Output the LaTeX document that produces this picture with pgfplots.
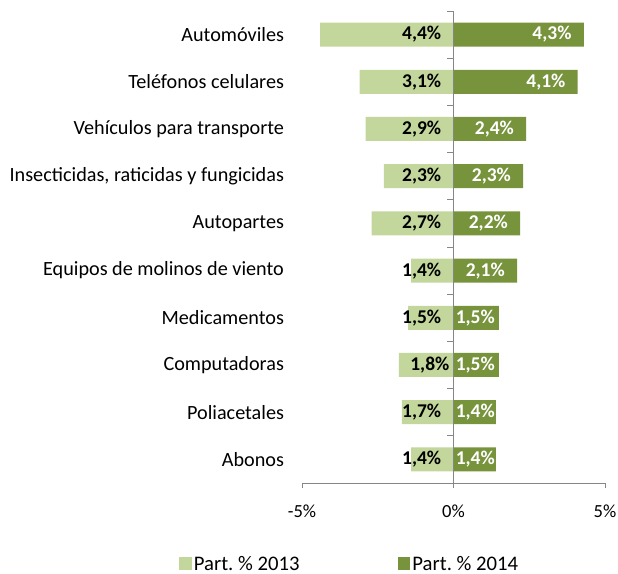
\documentclass[border=0pt]{standalone}
\usepackage{fontspec}
\setmainfont{Carlito}
\usepackage{pgfplots}
\pgfplotsset{compat=1.18}
\usepackage{pgfplotstable}
\frenchspacing
\definecolor{c13}{RGB}{195,214,155}
\definecolor{c14}{RGB}{119,147,60}
\definecolor{axgray}{RGB}{134,134,134}
\newcommand{\cf}{\fontsize{19.5bp}{23bp}\selectfont}
\newcommand{\catf}{\fontsize{20.2bp}{24bp}\selectfont}
\newcommand{\legf}{\fontsize{20.7bp}{24bp}\selectfont}
\newcommand{\tickf}{\fontsize{18.5bp}{22bp}\selectfont}
\pgfplotsset{sqlegend/.style={legend image code/.code={\fill[##1,draw=none] (0bp,-6bp) rectangle (12.4bp,6.4bp);}}}

% y: 10 = top category
\pgfplotstableread{
y   v13   v14   l13    l14   t13  t14
10  -4.4  4.3   -0.4   3.90  4,4  4,3
9   -3.1  4.1   -0.4   3.70  3,1  4,1
8   -2.9  2.4   -0.4   2.00  2,9  2,4
7   -2.3  2.3   -0.4   1.90  2,3  2,3
6   -2.7  2.2   -0.4   1.80  2,7  2,2
5   -1.4  2.1   -0.4   1.70  1,4  2,1
4   -1.5  1.5   -0.4   1.37  1,5  1,5
3   -1.8  1.5   -0.13  1.37  1,8  1,5
2   -1.7  1.4   -0.4   1.37  1,7  1,4
1   -1.4  1.4   -0.4   1.37  1,4  1,4
}\data

\begin{document}
\begin{tikzpicture}
\path[use as bounding box] (0,0) rectangle (618bp,574bp);
\begin{axis}[
  at={(302bp,91bp)}, anchor=south west,
  scale only axis, width=303bp, height=472bp,
  xmin=-5, xmax=5, ymin=0.5, ymax=10.5,
  clip=false,
  axis x line*=bottom, axis y line*=left,
  y axis line style={draw=none},
  x axis line style={axgray, line width=0.8bp},
  xtick={-5,0,5}, xticklabels={-5\%,0\%,5\%},
  x tick style={axgray, line width=0.8bp},
  tick align=outside, major tick length=5bp,
  ytick={1,...,10},
  yticklabels={Abonos,Poliacetales,Computadoras,Medicamentos,Equipos de molinos de viento,Autopartes,{Insecticidas, raticidas y fungicidas},Vehículos para transporte,Teléfonos celulares,Automóviles},
  y tick style={draw=none},
  yticklabel style={font=\catf, xshift=-9.5bp},
  xticklabel style={font=\tickf, yshift=-13bp},
  legend columns=2,
  legend style={draw=none, fill=none, font=\legf, inner sep=0pt,
    nodes={inner ysep=0bp},
    at={(rel axis cs:-0.405,-0.171)}, anchor=west,
    /tikz/every even column/.append style={column sep=96.5bp}},
]
\addplot[xbar, bar width=24bp, bar shift=0pt, fill=c13, draw=none, sqlegend] table[x=v13, y=y] {\data};
\addlegendentry{Part. \% 2013}
\addplot[xbar, bar width=24bp, bar shift=0pt, fill=c14, draw=none, sqlegend] table[x=v14, y=y] {\data};
\addlegendentry{Part. \% 2014}

\draw[axgray, line width=0.8bp] (axis cs:0,0.5) -- (axis cs:0,10.5);
\pgfplotsinvokeforeach{0.5,1.5,2.5,3.5,4.5,5.5,6.5,7.5,8.5,9.5,10.5}{
  \draw[axgray, line width=0.8bp] (axis cs:0,#1) -- ([xshift=-6.5bp]axis cs:0,#1);
}

\addplot[draw=none, mark=none, forget plot, point meta=explicit symbolic,
  nodes near coords={\pgfplotspointmeta\%},
  nodes near coords style={anchor=east, inner sep=0pt, text=black, font=\cf\bfseries}]
  table[x=l13, y=y, meta=t13] {\data};
\addplot[draw=none, mark=none, forget plot, point meta=explicit symbolic,
  nodes near coords={\pgfplotspointmeta\%},
  nodes near coords style={anchor=east, inner sep=0pt, text=white, font=\cf\bfseries}]
  table[x=l14, y=y, meta=t14] {\data};
\end{axis}
\end{tikzpicture}
\end{document}
